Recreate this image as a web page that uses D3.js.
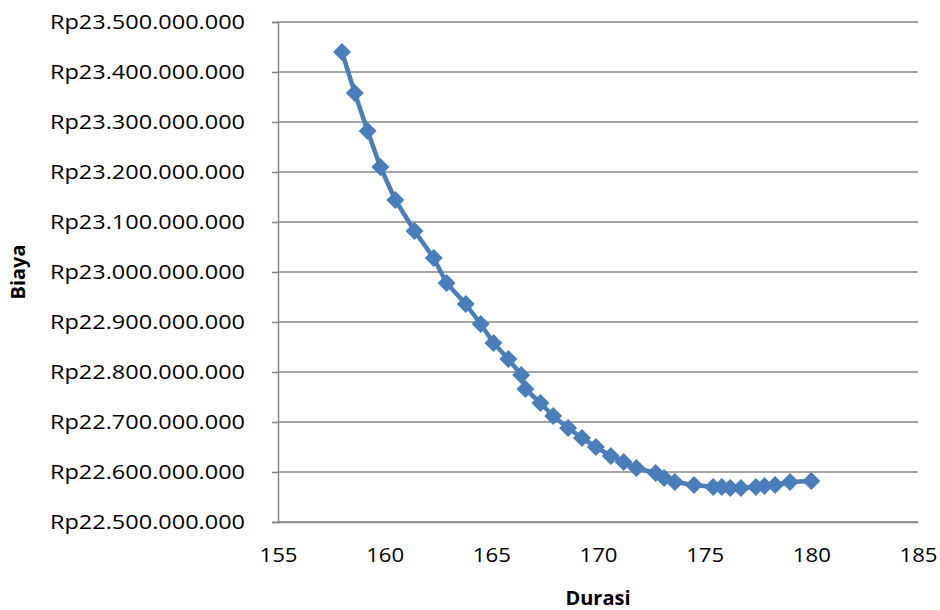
<!DOCTYPE html>
<html>
<head>
<meta charset="utf-8">
<script src="https://cdn.jsdelivr.net/npm/d3@7"></script>
<style>
  body { margin: 0; background: #fff; }
  svg { display: block; font-family: "Open Sans", sans-serif; }
</style>
</head>
<body>
<div id="chart"></div>
<script>
// durasi (hari) vs biaya (Rp)
const durasi = [158, 158.6, 159.2, 159.8, 160.5, 161.4, 162.3, 162.9, 163.8, 164.5,
  165.1, 165.8, 166.4, 166.6, 167.3, 167.9, 168.6, 169.25, 169.9, 170.6,
  171.2, 171.8, 172.7, 173.1, 173.6, 174.5, 175.4, 175.8, 176.2, 176.7,
  177.4, 177.8, 178.3, 179.0, 180.0];
const biaya = [23440, 23358, 23282, 23210, 23144, 23082, 23028, 22978, 22936, 22896,
  22858, 22826, 22794, 22766, 22738, 22712, 22688, 22668, 22650, 22632,
  22620, 22608, 22598, 22588, 22580, 22574, 22570, 22570, 22568, 22568,
  22570, 22572, 22574, 22580, 22582].map(v => v * 1e6);

const xTicks = [155, 160, 165, 170, 175, 180, 185];
const yTicks = [22.5e9, 22.6e9, 22.7e9, 22.8e9, 22.9e9, 23.0e9, 23.1e9, 23.2e9, 23.3e9, 23.4e9, 23.5e9];

const width = 940, height = 610;
const margin = {left: 278, right: 22, top: 22, bottom: 88};
const FONT = "'Open Sans', sans-serif";

const svg = d3.select("#chart").append("svg")
    .attr("width", width)
    .attr("height", height);

const x = d3.scaleLinear().domain([155, 185]).range([margin.left, width - margin.right]);
const y = d3.scaleLinear().domain([22.5e9, 23.5e9]).range([height - margin.bottom, margin.top]);

const fmt = v => "Rp" + d3.format(",")(v).replace(/,/g, ".");

// gridlines
svg.append("g")
    .selectAll("line")
    .data(yTicks)
    .join("line")
    .attr("x1", margin.left)
    .attr("x2", width - margin.right)
    .attr("y1", d => y(d))
    .attr("y2", d => y(d))
    .attr("stroke", "#878787")
    .attr("stroke-width", 1.5);

// y axis
const yAxis = svg.append("g")
    .attr("transform", `translate(${margin.left},0)`)
    .call(d3.axisLeft(y).tickValues(yTicks).tickFormat(fmt).tickSizeOuter(0).tickSize(6).tickPadding(27));
yAxis.select(".domain").attr("stroke", "#878787").attr("stroke-width", 1.5);
yAxis.selectAll(".tick line").attr("stroke", "#878787").attr("stroke-width", 1.5);
yAxis.selectAll("text").attr("font-size", 20).attr("fill", "#000")
    .attr("font-family", FONT).attr("textLength", 195).attr("lengthAdjust", "spacingAndGlyphs");

// x axis
const xAxis = svg.append("g")
    .attr("transform", `translate(0,${height - margin.bottom})`)
    .call(d3.axisBottom(x).tickValues(xTicks).tickSize(0).tickSizeOuter(0).tickPadding(26));
xAxis.select(".domain").attr("stroke", "#878787").attr("stroke-width", 1.5);
xAxis.selectAll("text").attr("font-size", 20).attr("fill", "#000")
    .attr("font-family", FONT).attr("textLength", 38).attr("lengthAdjust", "spacingAndGlyphs");

// axis titles
svg.append("text")
    .attr("x", (margin.left + width - margin.right) / 2)
    .attr("y", 605)
    .attr("text-anchor", "middle")
    .attr("font-size", 20)
    .attr("font-weight", "bold")
    .text("Durasi");

svg.append("text")
    .attr("transform", `translate(25,${(margin.top + height - margin.bottom) / 2}) rotate(-90)`)
    .attr("text-anchor", "middle")
    .attr("font-size", 20)
    .attr("font-weight", "bold")
    .text("Biaya");

const data = durasi.map((d, i) => ({x: d, y: biaya[i]}));

// line
svg.append("path")
    .datum(data)
    .attr("fill", "none")
    .attr("stroke", "#4a7ebb")
    .attr("stroke-width", 4.5)
    .attr("stroke-linejoin", "round")
    .attr("d", d3.line().x(d => x(d.x)).y(d => y(d.y)));

// diamond markers
svg.append("g")
    .selectAll("path")
    .data(data)
    .join("path")
    .attr("transform", d => `translate(${x(d.x)},${y(d.y)})`)
    .attr("d", "M0,-9L9,0L0,9L-9,0Z")
    .attr("fill", "#4a7ebb");
</script>
</body>
</html>
